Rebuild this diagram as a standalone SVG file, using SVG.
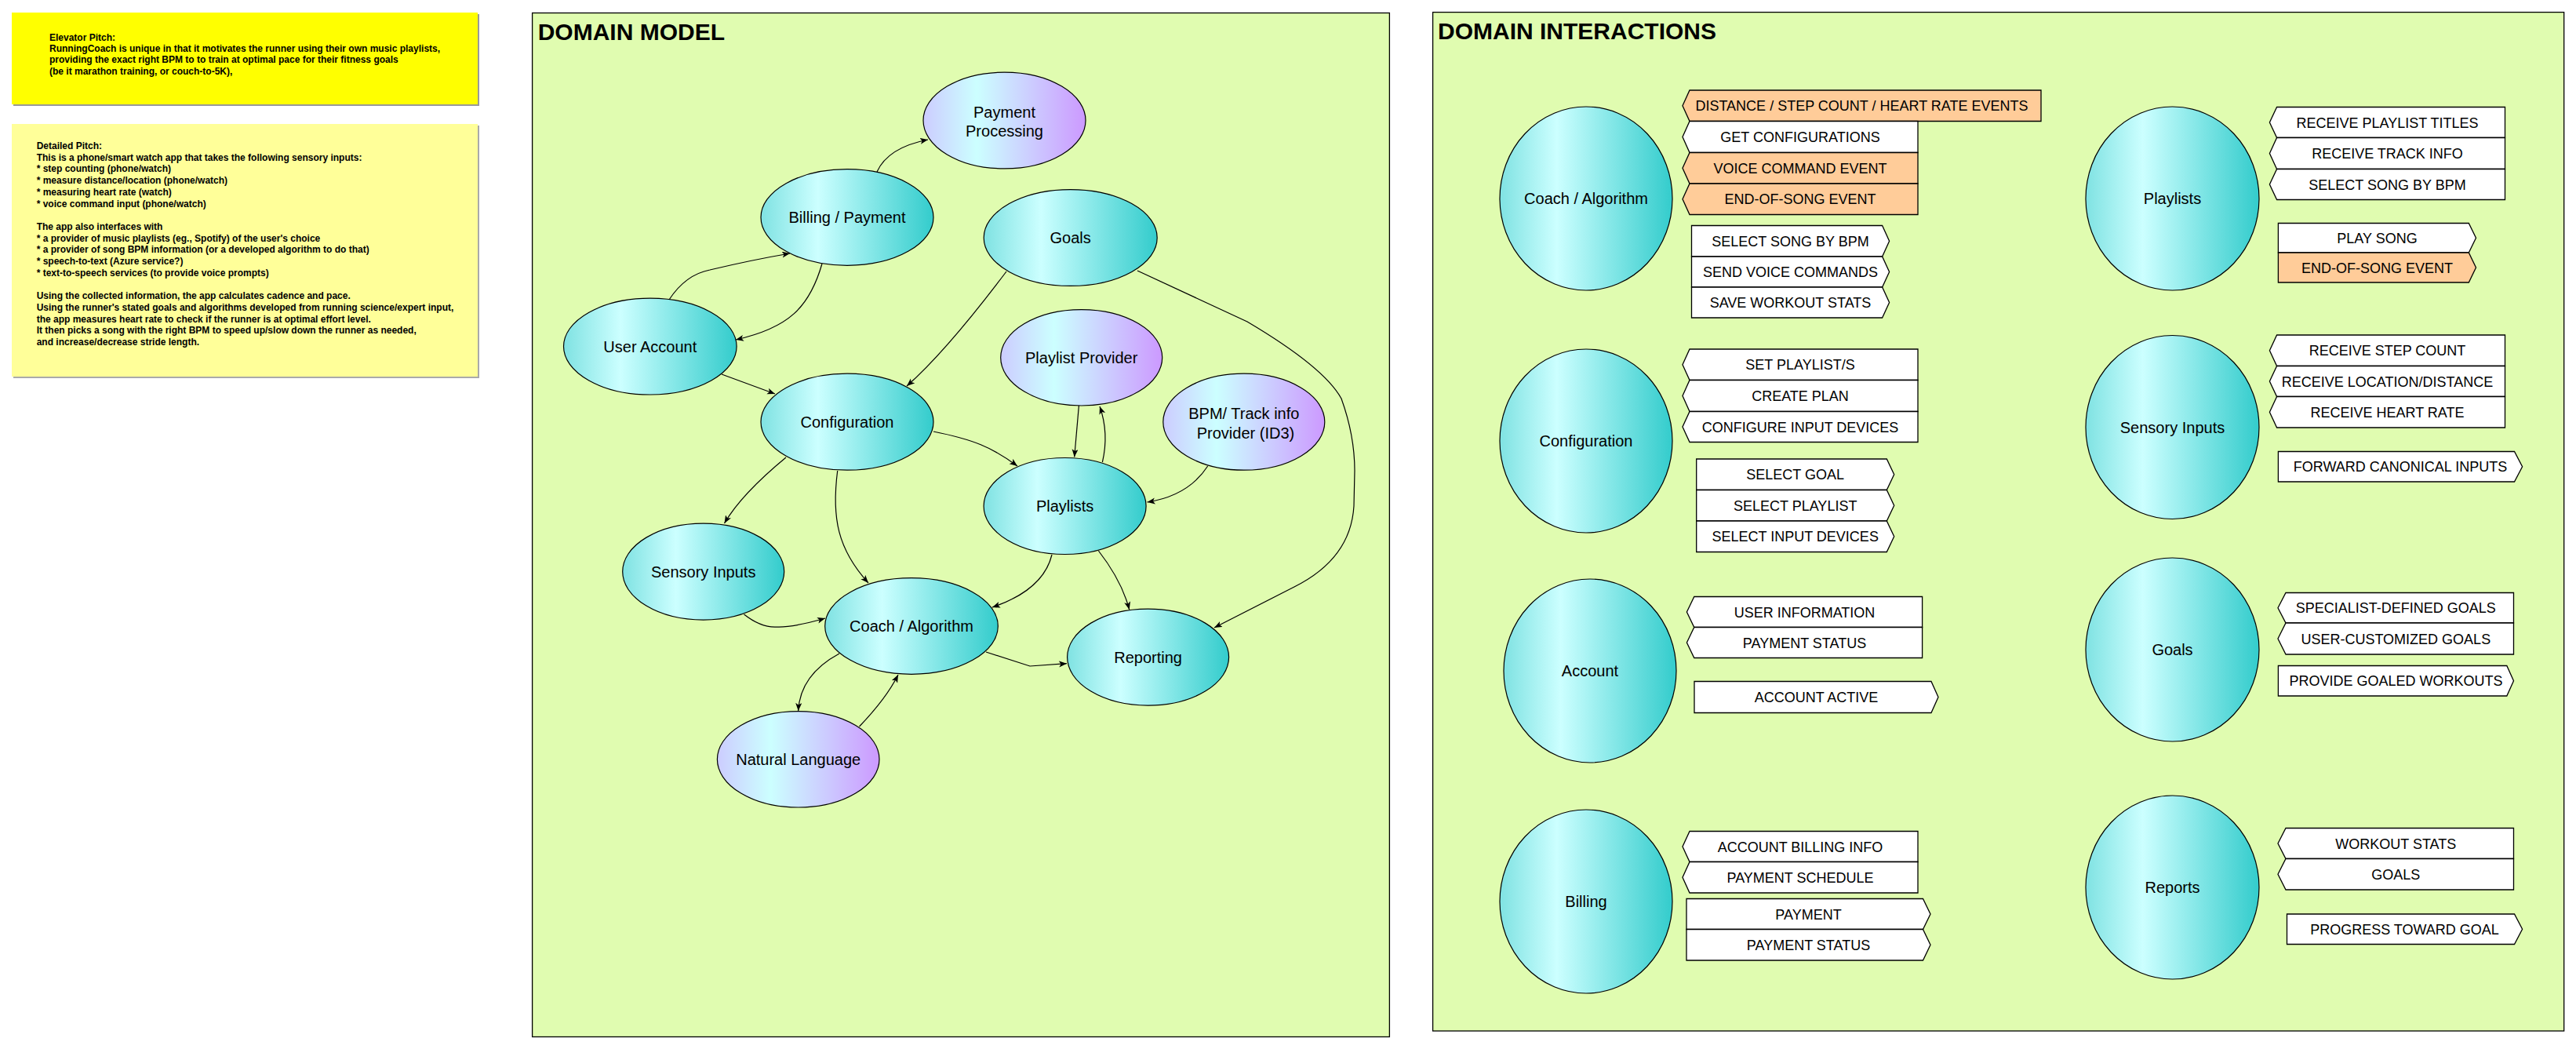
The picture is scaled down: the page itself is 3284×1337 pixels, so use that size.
<svg xmlns="http://www.w3.org/2000/svg" width="3284" height="1337" viewBox="0 0 3284 1337">
<style>
text{font-family:"Liberation Sans",Arial,Helvetica,sans-serif;fill:#000}
.note{font-size:12px;font-weight:bold}
.frame{fill:#e0fcb0;stroke:#000;stroke-width:1.3}
.title{font-size:30px;font-weight:bold}
.el{stroke:#000;stroke-width:1.2}
.teal{fill:url(#gTeal)}
.purp{fill:url(#gPurp)}
.lbl{font-size:20px;text-anchor:middle}
.box{fill:#fff;stroke:#000;stroke-width:1.3}
.ev{fill:#ffcc99}
.bt{font-size:18px;text-anchor:middle}
.con{fill:none;stroke:#000;stroke-width:1.2;marker-end:url(#arr)}
</style>
<defs>
<linearGradient id="gTeal" x1="0" y1="0" x2="1" y2="0">
<stop offset="0" stop-color="#7fe2e2"/>
<stop offset="0.33" stop-color="#ccffff"/>
<stop offset="1" stop-color="#33cccc"/>
</linearGradient>
<linearGradient id="gPurp" x1="0" y1="0" x2="1" y2="0">
<stop offset="0" stop-color="#ccccff"/>
<stop offset="0.33" stop-color="#ccffff"/>
<stop offset="1" stop-color="#cc99ff"/>
</linearGradient>
<marker id="arr" markerUnits="userSpaceOnUse" markerWidth="11" markerHeight="9" refX="10" refY="4" orient="auto">
<path d="M0,0 L10,4 L0,8 L2.5,4 z" fill="#000"/>
</marker>
</defs>

<rect width="3284" height="1337" fill="#fff"/>

<g id="elevator-pitch">
<rect x="17" y="18" width="594" height="117" fill="#999"/>
<rect x="15" y="16" width="594" height="117" fill="#ffff00"/>
<text class="note" x="63" y="51.7">Elevator Pitch:</text>
<text class="note" x="63" y="66">RunningCoach is unique in that it motivates the runner using their own music playlists,</text>
<text class="note" x="63" y="80.3">providing the exact right BPM to to train at optimal pace for their fitness goals</text>
<text class="note" x="63" y="94.6">(be it marathon training, or couch-to-5K),</text>
</g>

<g id="detailed-pitch">
<rect x="17" y="160" width="594" height="322" fill="#aaa"/>
<rect x="15" y="158" width="594" height="322" fill="#ffff99"/>
<text class="note" x="46.7" y="190">Detailed Pitch:</text>
<text class="note" x="46.7" y="204.7">This is a phone/smart watch app that takes the following sensory inputs:</text>
<text class="note" x="46.7" y="219.4">* step counting (phone/watch)</text>
<text class="note" x="46.7" y="234.1">* measure distance/location (phone/watch)</text>
<text class="note" x="46.7" y="248.8">* measuring heart rate (watch)</text>
<text class="note" x="46.7" y="263.5">* voice command input (phone/watch)</text>
<text class="note" x="46.7" y="292.9">The app also interfaces with</text>
<text class="note" x="46.7" y="307.6">* a provider of music playlists (eg., Spotify) of the user's choice</text>
<text class="note" x="46.7" y="322.3">* a provider of song BPM information (or a developed algorithm to do that)</text>
<text class="note" x="46.7" y="337">* speech-to-text (Azure service?)</text>
<text class="note" x="46.7" y="351.7">* text-to-speech services (to provide voice prompts)</text>
<text class="note" x="46.7" y="381.1">Using the collected information, the app calculates cadence and pace.</text>
<text class="note" x="46.7" y="395.8">Using the runner's stated goals and algorithms developed from running science/expert input,</text>
<text class="note" x="46.7" y="410.5">the app measures heart rate to check if the runner is at optimal effort level.</text>
<text class="note" x="46.7" y="425.2">It then picks a song with the right BPM to speed up/slow down the runner as needed,</text>
<text class="note" x="46.7" y="439.9">and increase/decrease stride length.</text>
</g>

<g id="domain-model-frame">
<rect class="frame" x="678.6" y="16.5" width="1092.8" height="1305"/>
<text class="title" x="685.7" y="50.7">DOMAIN MODEL</text>
</g>

<g id="dm-connectors">
<path class="con" d="M1118,219 Q1132,188 1183,178"/>
<path class="con" d="M853,382 Q874,350 905,344 Q960,331 1007,323"/>
<path class="con" d="M1048,336 C1032,392 1005,418 938,433"/>
<path class="con" d="M1283,346 Q1206,448 1156,492"/>
<path class="con" d="M1450,345 L1590,410 Q1688,468 1710,508 Q1727,555 1727,600 L1726,645 Q1722,712 1650,748 L1548,800"/>
<path class="con" d="M920,477 L988,502"/>
<path class="con" d="M1375.4,517 L1369.7,582.5"/>
<path class="con" d="M1405.4,589 Q1414,552 1402,518"/>
<path class="con" d="M1539.7,594 Q1515,632 1462.5,640"/>
<path class="con" d="M1190,550 C1240,560 1265,570 1297,594"/>
<path class="con" d="M1002,583 Q945,630 923.5,667"/>
<path class="con" d="M1067.7,600 C1060,660 1068,700 1107,743"/>
<path class="con" d="M948.5,783 Q970,800 990,799 Q1010,800 1052,788"/>
<path class="con" d="M1341,707 Q1330,752 1265,774"/>
<path class="con" d="M1400.4,702 Q1430,740 1439.7,777"/>
<path class="con" d="M1257,831 L1313,849 L1360,845.7"/>
<path class="con" d="M1070,833 Q1020,860 1017.7,906"/>
<path class="con" d="M1095.5,926 Q1130,890 1145,860"/>
</g>

<g id="dm-payment-processing"><ellipse class="el purp" cx="1280.5" cy="153.5" rx="103.5" ry="61.4"/><text class="lbl" x="1280.5" y="150">Payment</text><text class="lbl" x="1280.5" y="174">Processing</text></g>
<g id="dm-billing-payment"><ellipse class="el teal" cx="1080" cy="277" rx="110" ry="61.3"/><text class="lbl" x="1080" y="284">Billing / Payment</text></g>
<g id="dm-goals"><ellipse class="el teal" cx="1364.7" cy="303" rx="110.5" ry="61.4"/><text class="lbl" x="1364.7" y="310">Goals</text></g>
<g id="dm-user-account"><ellipse class="el teal" cx="828.8" cy="441.6" rx="110.3" ry="61.4"/><text class="lbl" x="828.8" y="448.6">User Account</text></g>
<g id="dm-playlist-provider"><ellipse class="el purp" cx="1378.7" cy="455.8" rx="103" ry="61.2"/><text class="lbl" x="1378.7" y="462.8">Playlist Provider</text></g>
<g id="dm-configuration"><ellipse class="el teal" cx="1080" cy="537.7" rx="110" ry="61.5"/><text class="lbl" x="1080" y="544.7">Configuration</text></g>
<g id="dm-bpm-provider"><ellipse class="el purp" cx="1585.8" cy="537.7" rx="103" ry="61.5"/><text class="lbl" x="1585.8" y="534">BPM/ Track info</text><text class="lbl" x="1588" y="558.7">Provider (ID3)</text></g>
<g id="dm-playlists"><ellipse class="el teal" cx="1357.6" cy="645" rx="103.5" ry="61.5"/><text class="lbl" x="1357.6" y="652">Playlists</text></g>
<g id="dm-sensory-inputs"><ellipse class="el teal" cx="896.7" cy="728.6" rx="103" ry="61.5"/><text class="lbl" x="896.7" y="735.6">Sensory Inputs</text></g>
<g id="dm-coach-algorithm"><ellipse class="el teal" cx="1162" cy="798" rx="110.3" ry="61.3"/><text class="lbl" x="1162" y="805">Coach / Algorithm</text></g>
<g id="dm-reporting"><ellipse class="el teal" cx="1463.6" cy="837.6" rx="103" ry="61.5"/><text class="lbl" x="1463.6" y="844.6">Reporting</text></g>
<g id="dm-natural-language"><ellipse class="el purp" cx="1017.7" cy="967.8" rx="103.3" ry="61.2"/><text class="lbl" x="1017.7" y="974.8">Natural Language</text></g>

<g id="domain-interactions-frame">
<rect class="frame" x="1826.6" y="15.6" width="1442.1" height="1298.4"/>
<text class="title" x="1833" y="50">DOMAIN INTERACTIONS</text>
</g>

<g id="di-coach">
<ellipse class="el teal" cx="2022" cy="253" rx="110" ry="117"/><text class="lbl" x="2022" y="260">Coach / Algorithm</text>
<polygon class="box ev" points="2145,134.75 2154,115 2602,115 2602,154.5 2154,154.5"/><text class="bt" x="2373.5" y="141.3">DISTANCE / STEP COUNT / HEART RATE EVENTS</text>
<polygon class="box" points="2145,174.5 2154,154.5 2445,154.5 2445,194.5 2154,194.5"/><text class="bt" x="2295" y="181">GET CONFIGURATIONS</text>
<polygon class="box ev" points="2145,214.25 2154,194.5 2445,194.5 2445,234 2154,234"/><text class="bt" x="2295" y="220.8">VOICE COMMAND EVENT</text>
<polygon class="box ev" points="2145,253.75 2154,234 2445,234 2445,273.5 2154,273.5"/><text class="bt" x="2295" y="260.3">END-OF-SONG EVENT</text>
<polygon class="box" points="2156.5,287.5 2399.6,287.5 2408.6,307.25 2399.6,327 2156.5,327"/><text class="bt" x="2282.5" y="313.8">SELECT SONG BY BPM</text>
<polygon class="box" points="2156.5,327 2399.6,327 2408.6,346.5 2399.6,366 2156.5,366"/><text class="bt" x="2282.5" y="353">SEND VOICE COMMANDS</text>
<polygon class="box" points="2156.5,366 2399.6,366 2408.6,385.5 2399.6,405 2156.5,405"/><text class="bt" x="2282.5" y="392">SAVE WORKOUT STATS</text>
</g>

<g id="di-configuration">
<ellipse class="el teal" cx="2022" cy="562" rx="110" ry="117"/><text class="lbl" x="2022" y="569">Configuration</text>
<polygon class="box" points="2145,464.75 2154,445 2445,445 2445,484.5 2154,484.5"/><text class="bt" x="2295" y="471.3">SET PLAYLIST/S</text>
<polygon class="box" points="2145,504.5 2154,484.5 2445,484.5 2445,524.5 2154,524.5"/><text class="bt" x="2295" y="511">CREATE PLAN</text>
<polygon class="box" points="2145,544 2154,524.5 2445,524.5 2445,563.5 2154,563.5"/><text class="bt" x="2295" y="550.5">CONFIGURE INPUT DEVICES</text>
<polygon class="box" points="2162.7,585 2405.3,585 2414.7,604.75 2405.3,624.5 2162.7,624.5"/><text class="bt" x="2288.7" y="611.3">SELECT GOAL</text>
<polygon class="box" points="2162.7,624.5 2405.3,624.5 2414.7,644.25 2405.3,664 2162.7,664"/><text class="bt" x="2288.7" y="650.8">SELECT PLAYLIST</text>
<polygon class="box" points="2162.7,664 2405.3,664 2414.7,683.75 2405.3,703.5 2162.7,703.5"/><text class="bt" x="2288.7" y="690.3">SELECT INPUT DEVICES</text>
</g>

<g id="di-account">
<ellipse class="el teal" cx="2027" cy="855" rx="110" ry="117"/><text class="lbl" x="2027" y="862">Account</text>
<polygon class="box" points="2150.4,780 2159.8,760.5 2450.6,760.5 2450.6,799.5 2159.8,799.5"/><text class="bt" x="2300.5" y="786.5">USER INFORMATION</text>
<polygon class="box" points="2150.4,819 2159.8,799.5 2450.6,799.5 2450.6,838.5 2159.8,838.5"/><text class="bt" x="2300.5" y="825.5">PAYMENT STATUS</text>
<polygon class="box" points="2160,868.5 2462,868.5 2471,888.5 2462,908.5 2160,908.5"/><text class="bt" x="2315.5" y="895">ACCOUNT ACTIVE</text>
</g>

<g id="di-billing">
<ellipse class="el teal" cx="2022" cy="1149" rx="110" ry="117"/><text class="lbl" x="2022" y="1156">Billing</text>
<polygon class="box" points="2145,1079 2154,1059.5 2445,1059.5 2445,1098.5 2154,1098.5"/><text class="bt" x="2295" y="1085.5">ACCOUNT BILLING INFO</text>
<polygon class="box" points="2145,1118.25 2154,1098.5 2445,1098.5 2445,1138 2154,1138"/><text class="bt" x="2295" y="1124.8">PAYMENT SCHEDULE</text>
<polygon class="box" points="2150,1145.5 2451.5,1145.5 2461,1165 2451.5,1184.5 2150,1184.5"/><text class="bt" x="2305.5" y="1171.5">PAYMENT</text>
<polygon class="box" points="2150,1184.5 2451.5,1184.5 2461,1204.25 2451.5,1224 2150,1224"/><text class="bt" x="2305.5" y="1210.8">PAYMENT STATUS</text>
</g>

<g id="di-playlists">
<ellipse class="el teal" cx="2769.5" cy="253" rx="110.5" ry="117"/><text class="lbl" x="2769.5" y="260">Playlists</text>
<polygon class="box" points="2893.4,156 2902.6,136.5 3193.5,136.5 3193.5,175.5 2902.6,175.5"/><text class="bt" x="3043.5" y="162.5">RECEIVE PLAYLIST TITLES</text>
<polygon class="box" points="2893.4,195.5 2902.6,175.5 3193.5,175.5 3193.5,215.5 2902.6,215.5"/><text class="bt" x="3043.5" y="202">RECEIVE TRACK INFO</text>
<polygon class="box" points="2893.4,235 2902.6,215.5 3193.5,215.5 3193.5,254.5 2902.6,254.5"/><text class="bt" x="3043.5" y="241.5">SELECT SONG BY BPM</text>
<polygon class="box" points="2904.4,284.5 3147.3,284.5 3156.5,303.25 3147.3,322 2904.4,322"/><text class="bt" x="3030.5" y="309.8">PLAY SONG</text>
<polygon class="box ev" points="2904.4,322 3147.3,322 3156.5,341 3147.3,360 2904.4,360"/><text class="bt" x="3030.5" y="347.5">END-OF-SONG EVENT</text>
</g>

<g id="di-sensory-inputs">
<ellipse class="el teal" cx="2769.5" cy="544.5" rx="110.5" ry="117"/><text class="lbl" x="2769.5" y="551.5">Sensory Inputs</text>
<polygon class="box" points="2893.4,446.75 2902.6,427 3193.5,427 3193.5,466.5 2902.6,466.5"/><text class="bt" x="3043.5" y="453.3">RECEIVE STEP COUNT</text>
<polygon class="box" points="2893.4,486 2902.6,466.5 3193.5,466.5 3193.5,505.5 2902.6,505.5"/><text class="bt" x="3043.5" y="492.5">RECEIVE LOCATION/DISTANCE</text>
<polygon class="box" points="2893.4,525.25 2902.6,505.5 3193.5,505.5 3193.5,545 2902.6,545"/><text class="bt" x="3043.5" y="531.8">RECEIVE HEART RATE</text>
<polygon class="box" points="2904.4,575.5 3205.5,575.5 3215.6,594.75 3205.5,614 2904.4,614"/><text class="bt" x="3060" y="601.3">FORWARD CANONICAL INPUTS</text>
</g>

<g id="di-goals">
<ellipse class="el teal" cx="2769.5" cy="828" rx="110.5" ry="117"/><text class="lbl" x="2769.5" y="835">Goals</text>
<polygon class="box" points="2904,774.75 2914,755.5 3204.5,755.5 3204.5,794 2914,794"/><text class="bt" x="3054.3" y="781.3">SPECIALIST-DEFINED GOALS</text>
<polygon class="box" points="2904,814 2914,794 3204.5,794 3204.5,834 2914,834"/><text class="bt" x="3054.3" y="820.5">USER-CUSTOMIZED GOALS</text>
<polygon class="box" points="2904.4,848.5 3195.8,848.5 3204.5,867.75 3195.8,887 2904.4,887"/><text class="bt" x="3054.5" y="874.3">PROVIDE GOALED WORKOUTS</text>
</g>

<g id="di-reports">
<ellipse class="el teal" cx="2769.5" cy="1131" rx="110.5" ry="117"/><text class="lbl" x="2769.5" y="1138">Reports</text>
<polygon class="box" points="2904,1075 2914,1055.5 3204.5,1055.5 3204.5,1094.5 2914,1094.5"/><text class="bt" x="3054.3" y="1081.5">WORKOUT STATS</text>
<polygon class="box" points="2904,1114.25 2914,1094.5 3204.5,1094.5 3204.5,1134 2914,1134"/><text class="bt" x="3054.3" y="1120.8">GOALS</text>
<polygon class="box" points="2915.5,1165 3205.5,1165 3215.6,1184.25 3205.5,1203.5 2915.5,1203.5"/><text class="bt" x="3065.5" y="1190.8">PROGRESS TOWARD GOAL</text>
</g>
</svg>
